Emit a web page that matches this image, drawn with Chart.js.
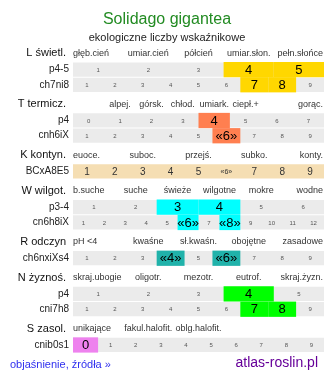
<!DOCTYPE html>
<html>
<head>
<meta charset="utf-8">
<script src="https://cdn.jsdelivr.net/npm/chart.js@4.4.1/dist/chart.umd.min.js"></script>
<style>
  html, body { margin: 0; padding: 0; background: #fff; }
  #wrap { position: relative; width: 334px; height: 382px; }
</style>
</head>
<body>
<div id="wrap"><canvas id="ellenberg"></canvas></div>
<script>
const title = 'Solidago gigantea';
const subtitle = 'ekologiczne liczby wskaźnikowe';
const sections = ['L świetl.', 'T termicz.', 'K kontyn.', 'W wilgot.', 'R odczyn', 'N żyznoś.', 'S zasol.'];
const sectionHeaders = [
    ['głęb.cień', 'umiar.cień', 'półcień', 'umiar.słon.', 'pełn.słońce'],
    ['', 'alpej.', 'górsk.', 'chłod.', 'umiark.', 'ciepł.+', '', 'gorąc.'],
    ['euoce.', '', 'suboc.', '', 'przejś.', '', 'subko.', '', 'konty.'],
    ['b.suche', 'suche', 'świeże', 'wilgotne', 'mokre', 'wodne'],
    ['pH <4', 'kwaśne', 'sł.kwaśn.', 'obojętne', 'zasadowe'],
    ['skraj.ubogie', 'oligotr.', 'mezotr.', 'eutrof.', 'skraj.żyzn.'],
    ['unikające', 'fakul.halofit.', 'oblg.halofit.', '', '']
];
const rowCodes = ['p4-5', 'ch7ni8', 'p4', 'cnh6iX', 'BCxA8E5', 'p3-4', 'cn6h8iX', 'ch6nxiXs4', 'p4', 'cni7h8', 'cnib0s1'];
const rowSection = [0, 0, 1, 1, 2, 3, 3, 4, 5, 5, 6];
const rowTicks = [
    ['1', '2', '3', '4', '5'],
    ['1', '2', '3', '4', '5', '6', '7', '8', '9'],
    ['0', '1', '2', '3', '4', '5', '6', '7'],
    ['1', '2', '3', '4', '5', '«6»', '7', '8', '9'],
    ['1', '2', '3', '4', '5', '«6»', '7', '8', '9'],
    ['1', '2', '3', '4', '5', '6'],
    ['1', '2', '3', '4', '5', '«6»', '7', '«8»', '9', '10', '11', '12'],
    ['1', '2', '3', '«4»', '5', '«6»', '7', '8', '9'],
    ['1', '2', '3', '4', '5'],
    ['1', '2', '3', '4', '5', '6', '7', '8', '9'],
    ['0', '1', '2', '3', '4', '5', '6', '7', '8', '9']
];
const rowMarked = [['4', '5'], ['7', '8'], ['4'], ['«6»'], [], ['3', '4'], ['«6»', '«8»'], ['«4»', '«6»'], ['4'], ['7', '8'], ['0']];
const filledRows = ['BCxA8E5'];

const markColors = ['#ffd700', '#ff7f50', '#f5deb3', '#00ffff', '#20b2aa', '#00ff00', '#ee82ee'];
const FONT = '"Liberation Sans", Arial, sans-serif';
const GAP = 0.344;   // extra space between sections, in row units
const PITCH = 15.25; // px per row unit

// vertical position of headers and rows (row units)
const headerPos = [];
const rowPos = [];
let u = 0;
sections.forEach((s, si) => {
    headerPos.push(u);
    rowSection.forEach((sec, ri) => {
        if (sec === si) { u += 1; rowPos[ri] = u; }
    });
    u += 1 + GAP;
});

const bgData = [], bgColors = [];
const markData = [], markCols = [];
rowCodes.forEach((code, r) => {
    const filled = filledRows.includes(code);
    bgData.push({ y: rowPos[r], x: [0, 1] });
    bgColors.push(filled ? markColors[rowSection[r]] : '#ebebeb');
    const n = rowTicks[r].length;
    rowMarked[r].forEach(v => {
        const i = rowTicks[r].indexOf(v);
        markData.push({ y: rowPos[r], x: [i / n, (i + 1) / n] });
        markCols.push(markColors[rowSection[r]]);
    });
});

const yMin = 1 - 69.5 / PITCH;
const yMax = yMin + 382 / PITCH;

const textPlugin = {
    id: 'ellenbergText',
    afterDatasetsDraw(chart) {
        const { ctx, chartArea, scales: { x, y } } = chart;
        ctx.save();
        ctx.textBaseline = 'middle';

        ctx.textAlign = 'center';
        ctx.fillStyle = '#228b22';
        ctx.font = '16px ' + FONT;
        ctx.fillText(title, chart.width / 2, 20);
        ctx.fillStyle = '#222';
        ctx.font = '11px ' + FONT;
        ctx.fillText(subtitle, chart.width / 2, 38);

        sections.forEach((name, si) => {
            const py = y.getPixelForValue(headerPos[si]) - 1;
            ctx.textAlign = 'right';
            ctx.fillStyle = '#111';
            ctx.font = '11px ' + FONT;
            ctx.fillText(name, chartArea.left - 7, py);
            const hdr = sectionHeaders[si];
            ctx.fillStyle = '#333';
            ctx.font = '9px ' + FONT;
            hdr.forEach((lab, i) => {
                if (!lab) return;
                if (i === 0) {
                    ctx.textAlign = 'left';
                    ctx.fillText(lab, chartArea.left, py);
                } else if (i === hdr.length - 1) {
                    ctx.textAlign = 'right';
                    ctx.fillText(lab, chartArea.right - 1, py);
                } else {
                    ctx.textAlign = 'center';
                    ctx.fillText(lab, x.getPixelForValue((i + 0.5) / hdr.length), py);
                }
            });
        });

        rowCodes.forEach((code, r) => {
            const py = y.getPixelForValue(rowPos[r]);
            ctx.textAlign = 'right';
            ctx.fillStyle = '#222';
            ctx.font = '10px ' + FONT;
            ctx.fillText(code, chartArea.left - 4, py);
            const filled = filledRows.includes(code);
            const ticks = rowTicks[r];
            ctx.textAlign = 'center';
            ticks.forEach((t, i) => {
                const px = x.getPixelForValue((i + 0.5) / ticks.length);
                if (rowMarked[r].includes(t)) {
                    ctx.fillStyle = '#000';
                    ctx.font = '13px ' + FONT;
                } else if (filled) {
                    ctx.fillStyle = '#333';
                    ctx.font = (t.includes('«') ? '7px ' : '10px ') + FONT;
                } else {
                    ctx.fillStyle = '#555';
                    ctx.font = '6px ' + FONT;
                }
                ctx.fillText(t, px, py + 0.5);
            });
        });

        ctx.textAlign = 'left';
        ctx.fillStyle = '#2f2fef';
        ctx.font = '11px ' + FONT;
        ctx.fillText('objaśnienie, źródła »', 10, 365);
        ctx.textAlign = 'right';
        ctx.fillStyle = '#660099';
        ctx.font = '14px ' + FONT;
        ctx.fillText('atlas-roslin.pl', 318, 363);
        ctx.restore();
    }
};

new Chart(document.getElementById('ellenberg'), {
    type: 'bar',
    data: {
        datasets: [
            { label: 'wartości', data: markData, backgroundColor: markCols, barThickness: PITCH, order: 0 },
            { label: 'tło', data: bgData, backgroundColor: bgColors, barThickness: PITCH - 1, order: 1 }
        ]
    },
    options: {
        indexAxis: 'y',
        responsive: true,
        maintainAspectRatio: false,
        animation: false,
        layout: { padding: { left: 73, right: 10, top: 0, bottom: 0 } },
        datasets: { bar: { borderWidth: 0, inflateAmount: 0, grouped: false } },
        scales: {
            x: { type: 'linear', min: 0, max: 1, display: false },
            y: { type: 'linear', min: yMin, max: yMax, reverse: true, display: false, offset: false }
        },
        plugins: {
            legend: { display: false },
            tooltip: { enabled: false }
        }
    },
    plugins: [textPlugin]
});
</script>
</body>
</html>
